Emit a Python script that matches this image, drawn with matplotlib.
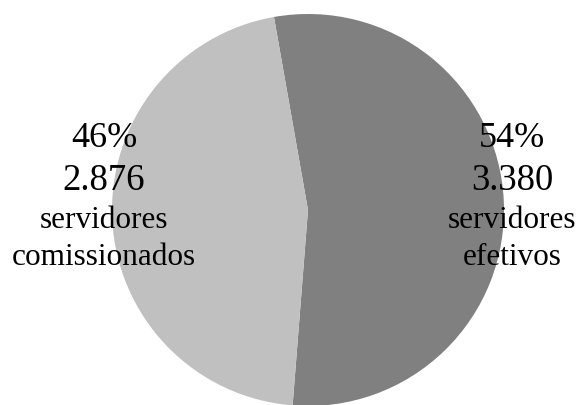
import matplotlib.pyplot as plt

# data
labels = ["servidores\nefetivos", "servidores\ncomissionados"]
values = [3380, 2876]
pct = ["54%", "46%"]
counts = ["3.380", "2.876"]
colors = ["#808080", "#c0c0c0"]

W, H = 580, 406
fig = plt.figure(figsize=(W / 100, H / 100), dpi=100)
ax = fig.add_axes([112 / W, -1 / H, 392 / W, 392 / H])
ax.pie(values, colors=colors, startangle=100, counterclock=False,
       wedgeprops=dict(linewidth=0))
ax.set_xlim(-1, 1)
ax.set_ylim(-1, 1)
ax.set_aspect("equal")
ax.axis("off")


def put(x, y, s, size):
    fig.text(x / W, 1 - y / H, s, ha="center", va="baseline",
             fontsize=size, family="Liberation Serif")


# label blocks: (center x, lines)
for cx, i in [(512, 0), (104, 1)]:
    put(cx, 147, pct[i], 26)
    put(cx, 190, counts[i], 26.5)
    l1, l2 = labels[i].split("\n")
    put(cx, 228, l1, 22.5)
    put(cx, 265, l2, 22.5)

fig.savefig("out.png", dpi=100)
